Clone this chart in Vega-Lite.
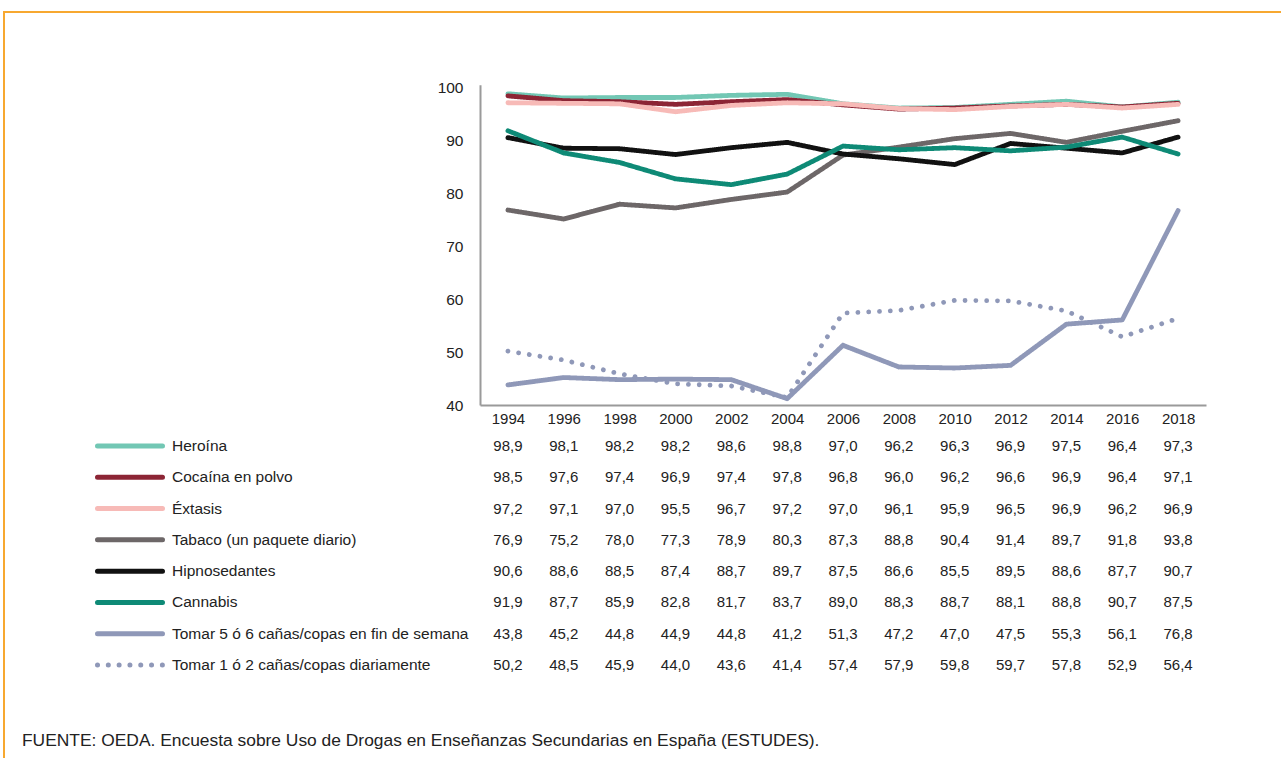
{
"$schema": "https://vega.github.io/schema/vega-lite/v6.json",
"width": 1277,
"height": 746,
"autosize": {"type": "none"},
"padding": {"left": 4, "top": 12, "right": 0, "bottom": 0},
"background": "white",
"config": {
  "locale": {"number": {"decimal": ",", "thousands": ".", "grouping": [3], "currency": ["", " €"]}},
  "view": {"stroke": "#f7a830", "strokeWidth": 2, "strokeDash": [1277, 2023, 746]},
  "font": "Liberation Sans"
},
"title": {"text": "FUENTE: OEDA. Encuesta sobre Uso de Drogas en Enseñanzas Secundarias en España (ESTUDES).", "orient": "bottom", "anchor": "start", "frame": "group", "offset": -12, "dx": 18, "baseline": "alphabetic", "fontSize": 17.4, "fontWeight": "normal", "font": "Liberation Sans", "color": "#222"},
"datasets": {"rows": [
{"series":"Heroína","year":1994,"value":98.9},{"series":"Heroína","year":1996,"value":98.1},{"series":"Heroína","year":1998,"value":98.2},{"series":"Heroína","year":2000,"value":98.2},{"series":"Heroína","year":2002,"value":98.6},{"series":"Heroína","year":2004,"value":98.8},{"series":"Heroína","year":2006,"value":97.0},{"series":"Heroína","year":2008,"value":96.2},{"series":"Heroína","year":2010,"value":96.3},{"series":"Heroína","year":2012,"value":96.9},{"series":"Heroína","year":2014,"value":97.5},{"series":"Heroína","year":2016,"value":96.4},{"series":"Heroína","year":2018,"value":97.3},
{"series":"Cocaína en polvo","year":1994,"value":98.5},{"series":"Cocaína en polvo","year":1996,"value":97.6},{"series":"Cocaína en polvo","year":1998,"value":97.4},{"series":"Cocaína en polvo","year":2000,"value":96.9},{"series":"Cocaína en polvo","year":2002,"value":97.4},{"series":"Cocaína en polvo","year":2004,"value":97.8},{"series":"Cocaína en polvo","year":2006,"value":96.8},{"series":"Cocaína en polvo","year":2008,"value":96.0},{"series":"Cocaína en polvo","year":2010,"value":96.2},{"series":"Cocaína en polvo","year":2012,"value":96.6},{"series":"Cocaína en polvo","year":2014,"value":96.9},{"series":"Cocaína en polvo","year":2016,"value":96.4},{"series":"Cocaína en polvo","year":2018,"value":97.1},
{"series":"Éxtasis","year":1994,"value":97.2},{"series":"Éxtasis","year":1996,"value":97.1},{"series":"Éxtasis","year":1998,"value":97.0},{"series":"Éxtasis","year":2000,"value":95.5},{"series":"Éxtasis","year":2002,"value":96.7},{"series":"Éxtasis","year":2004,"value":97.2},{"series":"Éxtasis","year":2006,"value":97.0},{"series":"Éxtasis","year":2008,"value":96.1},{"series":"Éxtasis","year":2010,"value":95.9},{"series":"Éxtasis","year":2012,"value":96.5},{"series":"Éxtasis","year":2014,"value":96.9},{"series":"Éxtasis","year":2016,"value":96.2},{"series":"Éxtasis","year":2018,"value":96.9},
{"series":"Tabaco (un paquete diario)","year":1994,"value":76.9},{"series":"Tabaco (un paquete diario)","year":1996,"value":75.2},{"series":"Tabaco (un paquete diario)","year":1998,"value":78.0},{"series":"Tabaco (un paquete diario)","year":2000,"value":77.3},{"series":"Tabaco (un paquete diario)","year":2002,"value":78.9},{"series":"Tabaco (un paquete diario)","year":2004,"value":80.3},{"series":"Tabaco (un paquete diario)","year":2006,"value":87.3},{"series":"Tabaco (un paquete diario)","year":2008,"value":88.8},{"series":"Tabaco (un paquete diario)","year":2010,"value":90.4},{"series":"Tabaco (un paquete diario)","year":2012,"value":91.4},{"series":"Tabaco (un paquete diario)","year":2014,"value":89.7},{"series":"Tabaco (un paquete diario)","year":2016,"value":91.8},{"series":"Tabaco (un paquete diario)","year":2018,"value":93.8},
{"series":"Hipnosedantes","year":1994,"value":90.6},{"series":"Hipnosedantes","year":1996,"value":88.6},{"series":"Hipnosedantes","year":1998,"value":88.5},{"series":"Hipnosedantes","year":2000,"value":87.4},{"series":"Hipnosedantes","year":2002,"value":88.7},{"series":"Hipnosedantes","year":2004,"value":89.7},{"series":"Hipnosedantes","year":2006,"value":87.5},{"series":"Hipnosedantes","year":2008,"value":86.6},{"series":"Hipnosedantes","year":2010,"value":85.5},{"series":"Hipnosedantes","year":2012,"value":89.5},{"series":"Hipnosedantes","year":2014,"value":88.6},{"series":"Hipnosedantes","year":2016,"value":87.7},{"series":"Hipnosedantes","year":2018,"value":90.7},
{"series":"Cannabis","year":1994,"value":91.9},{"series":"Cannabis","year":1996,"value":87.7},{"series":"Cannabis","year":1998,"value":85.9},{"series":"Cannabis","year":2000,"value":82.8},{"series":"Cannabis","year":2002,"value":81.7},{"series":"Cannabis","year":2004,"value":83.7},{"series":"Cannabis","year":2006,"value":89.0},{"series":"Cannabis","year":2008,"value":88.3},{"series":"Cannabis","year":2010,"value":88.7},{"series":"Cannabis","year":2012,"value":88.1},{"series":"Cannabis","year":2014,"value":88.8},{"series":"Cannabis","year":2016,"value":90.7},{"series":"Cannabis","year":2018,"value":87.5},
{"series":"Tomar 5 ó 6 cañas/copas en fin de semana","year":1994,"value":43.8},{"series":"Tomar 5 ó 6 cañas/copas en fin de semana","year":1996,"value":45.2},{"series":"Tomar 5 ó 6 cañas/copas en fin de semana","year":1998,"value":44.8},{"series":"Tomar 5 ó 6 cañas/copas en fin de semana","year":2000,"value":44.9},{"series":"Tomar 5 ó 6 cañas/copas en fin de semana","year":2002,"value":44.8},{"series":"Tomar 5 ó 6 cañas/copas en fin de semana","year":2004,"value":41.2},{"series":"Tomar 5 ó 6 cañas/copas en fin de semana","year":2006,"value":51.3},{"series":"Tomar 5 ó 6 cañas/copas en fin de semana","year":2008,"value":47.2},{"series":"Tomar 5 ó 6 cañas/copas en fin de semana","year":2010,"value":47.0},{"series":"Tomar 5 ó 6 cañas/copas en fin de semana","year":2012,"value":47.5},{"series":"Tomar 5 ó 6 cañas/copas en fin de semana","year":2014,"value":55.3},{"series":"Tomar 5 ó 6 cañas/copas en fin de semana","year":2016,"value":56.1},{"series":"Tomar 5 ó 6 cañas/copas en fin de semana","year":2018,"value":76.8},
{"series":"Tomar 1 ó 2 cañas/copas diariamente","year":1994,"value":50.2},{"series":"Tomar 1 ó 2 cañas/copas diariamente","year":1996,"value":48.5},{"series":"Tomar 1 ó 2 cañas/copas diariamente","year":1998,"value":45.9},{"series":"Tomar 1 ó 2 cañas/copas diariamente","year":2000,"value":44.0},{"series":"Tomar 1 ó 2 cañas/copas diariamente","year":2002,"value":43.6},{"series":"Tomar 1 ó 2 cañas/copas diariamente","year":2004,"value":41.4},{"series":"Tomar 1 ó 2 cañas/copas diariamente","year":2006,"value":57.4},{"series":"Tomar 1 ó 2 cañas/copas diariamente","year":2008,"value":57.9},{"series":"Tomar 1 ó 2 cañas/copas diariamente","year":2010,"value":59.8},{"series":"Tomar 1 ó 2 cañas/copas diariamente","year":2012,"value":59.7},{"series":"Tomar 1 ó 2 cañas/copas diariamente","year":2014,"value":57.8},{"series":"Tomar 1 ó 2 cañas/copas diariamente","year":2016,"value":52.9},{"series":"Tomar 1 ó 2 cañas/copas diariamente","year":2018,"value":56.4}
]},
"data": {"name": "rows"},
"layer": [
  {
    "mark": {"type": "line", "strokeWidth": 4.8, "strokeCap": "round", "strokeJoin": "round"},
    "encoding": {
      "x": {"field": "year", "type": "ordinal",
        "scale": {"type": "point", "domain": [1994,1996,1998,2000,2002,2004,2006,2008,2010,2012,2014,2016,2018], "range": [476, 1202], "padding": 0.5},
        "axis": {"orient": "bottom", "offset": -353, "title": null, "labelAngle": 0, "ticks": false, "tickSize": 0, "labelPadding": 6, "domainColor": "#9a9a9a", "domainWidth": 2, "labelFontSize": 15, "labelColor": "#222", "labelFont": "Liberation Sans", "grid": false}},
      "y": {"field": "value", "type": "quantitative",
        "scale": {"domain": [40, 100.6], "range": [393, 72.8], "nice": false, "zero": false},
        "axis": {"orient": "left", "offset": -476, "values": [40,50,60,70,80,90,100], "title": null, "grid": false, "ticks": false, "tickSize": 0, "labelPadding": 17, "domainColor": "#9a9a9a", "domainWidth": 2, "labelFontSize": 15.5, "labelColor": "#222", "labelFont": "Liberation Sans"}},
      "color": {"field": "series", "type": "nominal",
        "scale": {"domain": ["Heroína","Cocaína en polvo","Éxtasis","Tabaco (un paquete diario)","Hipnosedantes","Cannabis","Tomar 5 ó 6 cañas/copas en fin de semana","Tomar 1 ó 2 cañas/copas diariamente"],
                  "range": ["#72c7b4","#8c2535","#f7bab7","#6d6768","#111111","#0e8a76","#8f98b8","#8f98b8"]}, "legend": null},
      "strokeDash": {"field": "series", "type": "nominal",
        "scale": {"domain": ["Heroína","Cocaína en polvo","Éxtasis","Tabaco (un paquete diario)","Hipnosedantes","Cannabis","Tomar 5 ó 6 cañas/copas en fin de semana","Tomar 1 ó 2 cañas/copas diariamente"],
                  "range": [[1,0],[1,0],[1,0],[1,0],[1,0],[1,0],[1,0],[0.01,10.8]]}, "legend": null}
    }
  },
  {
    "mark": {"type": "text", "fontSize": 15, "color": "#222", "baseline": "middle", "align": "center", "font": "Liberation Sans"},
    "encoding": {
      "x": {"field": "year", "type": "ordinal",
        "scale": {"type": "point", "domain": [1994,1996,1998,2000,2002,2004,2006,2008,2010,2012,2014,2016,2018], "range": [476, 1202], "padding": 0.5}, "axis": null},
      "y": {"field": "series", "type": "nominal",
        "scale": {"type": "point", "domain": ["Heroína","Cocaína en polvo","Éxtasis","Tabaco (un paquete diario)","Hipnosedantes","Cannabis","Tomar 5 ó 6 cañas/copas en fin de semana","Tomar 1 ó 2 cañas/copas diariamente"], "range": [434, 653], "padding": 0}, "axis": null},
      "text": {"field": "value", "type": "quantitative", "format": ".1f"}
    }
  },
  {
    "transform": [{"filter": "datum.year == 1994"}],
    "mark": {"type": "rule", "strokeWidth": 5, "strokeCap": "round"},
    "encoding": {
      "x": {"datum": 0, "type": "quantitative", "scale": {"domain": [0, 1], "range": [93.5, 158.5], "nice": false, "zero": false}, "axis": null},
      "x2": {"datum": 1},
      "y": {"field": "series", "type": "nominal",
        "scale": {"type": "point", "domain": ["Heroína","Cocaína en polvo","Éxtasis","Tabaco (un paquete diario)","Hipnosedantes","Cannabis","Tomar 5 ó 6 cañas/copas en fin de semana","Tomar 1 ó 2 cañas/copas diariamente"], "range": [434, 653], "padding": 0}, "axis": null},
      "color": {"field": "series", "type": "nominal", "legend": null},
      "strokeDash": {"field": "series", "type": "nominal", "legend": null}
    }
  },
  {
    "transform": [{"filter": "datum.year == 1994"}],
    "mark": {"type": "text", "align": "left", "baseline": "middle", "fontSize": 15.5, "color": "#222", "font": "Liberation Sans"},
    "encoding": {
      "x": {"datum": 0, "type": "quantitative", "scale": {"domain": [0, 1], "range": [168, 400], "nice": false, "zero": false}, "axis": null},
      "y": {"field": "series", "type": "nominal",
        "scale": {"type": "point", "domain": ["Heroína","Cocaína en polvo","Éxtasis","Tabaco (un paquete diario)","Hipnosedantes","Cannabis","Tomar 5 ó 6 cañas/copas en fin de semana","Tomar 1 ó 2 cañas/copas diariamente"], "range": [434, 653], "padding": 0}, "axis": null},
      "text": {"field": "series", "type": "nominal"}
    }
  }
],
"resolve": {"scale": {"x": "independent", "y": "independent"}}
}
